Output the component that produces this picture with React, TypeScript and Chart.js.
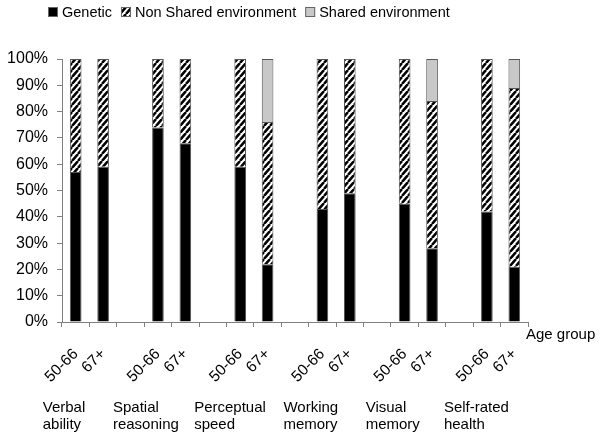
import React, { useEffect, useRef } from "react";
import { Chart, registerables } from "chart.js";
Chart.register(...registerables);

const seriesNames = ["Genetic", "Non Shared environment", "Shared environment"];
const domains = [
  ["Verbal", "ability"],
  ["Spatial", "reasoning"],
  ["Perceptual", "speed"],
  ["Working", "memory"],
  ["Visual", "memory"],
  ["Self-rated", "health"],
];
const ageGroups = ["50-66", "67+"];
const genetic = [57, 59, 74, 68, 59, 22, 43, 49, 45, 28, 42, 21];
const nonShared = [43, 41, 26, 32, 41, 54, 57, 51, 55, 56, 58, 68];
const shared = [0, 0, 0, 0, 0, 24, 0, 0, 0, 16, 0, 11];
const yTicks = [0, 10, 20, 30, 40, 50, 60, 70, 80, 90, 100];
const axisTitle = "Age group";

const FONT = '"Liberation Sans", Arial, sans-serif';
const domainLabelOffsets = [-33, -45, -46, -39, -39, -43];

function makeHatch(): CanvasPattern | string {
  const w = 6, h = 7;
  const c = document.createElement("canvas");
  c.width = w; c.height = h;
  const g = c.getContext("2d");
  if (!g) return "#000";
  g.fillStyle = "#fff";
  g.fillRect(0, 0, w, h);
  g.strokeStyle = "#000";
  g.lineWidth = 2.5;
  g.beginPath();
  g.moveTo(0, h); g.lineTo(w, 0);
  g.moveTo(-w, h); g.lineTo(0, 0);
  g.moveTo(w, h); g.lineTo(2 * w, 0);
  g.stroke();
  const p = g.createPattern(c, "repeat");
  return p || "#000";
}

function buildSlots() {
  const labels: string[] = [];
  const gen: (number | null)[] = [];
  const non: (number | null)[] = [];
  const sh: (number | null)[] = [];
  const firstIdx: number[] = [];
  domains.forEach((_, i) => {
    firstIdx.push(labels.length);
    ageGroups.forEach((a, j) => {
      labels.push(a);
      gen.push(genetic[i * 2 + j]);
      non.push(nonShared[i * 2 + j]);
      sh.push(shared[i * 2 + j]);
    });
    if (i < domains.length - 1) {
      labels.push("");
      gen.push(null); non.push(null); sh.push(null);
    }
  });
  return { labels, gen, non, sh, firstIdx };
}

export default function App() {
  const ref = useRef<HTMLCanvasElement | null>(null);
  useEffect(() => {
    if (!ref.current) return;
    const hatch = makeHatch();
    const { labels, gen, non, sh, firstIdx } = buildSlots();
    const colors: any[] = ["#000000", hatch, "#c8c8c8"];

    const extras = {
      id: "extras",
      afterDraw(chart: any) {
        const ctx = chart.ctx;
        ctx.save();
        ctx.fillStyle = "#000";
        ctx.font = `14.5px ${FONT}`;
        // legend
        let x = 48;
        const by = 7;
        seriesNames.forEach((name, i) => {
          ctx.fillStyle = colors[i];
          ctx.fillRect(x, by, 10, 10);
          ctx.strokeStyle = "#666";
          ctx.lineWidth = 1;
          ctx.strokeRect(x + 0.5, by + 0.5, 9, 9);
          ctx.fillStyle = "#000";
          ctx.textAlign = "left";
          ctx.textBaseline = "middle";
          ctx.fillText(name, x + 14, by + 5.5);
          x += 14 + ctx.measureText(name).width + 9;
        });
        ctx.font = `15px ${FONT}`;
        // axis title
        const xs = chart.scales.x;
        ctx.textAlign = "left";
        ctx.textBaseline = "middle";
        ctx.fillText(axisTitle, xs.right - 2, xs.top + 13);
        // domain labels
        ctx.textBaseline = "alphabetic";
        domains.forEach((lines, i) => {
          const px = xs.getPixelForValue(firstIdx[i]) + domainLabelOffsets[i];
          lines.forEach((ln, k) => {
            ctx.fillText(ln, px, 412 + k * 16.5);
          });
        });
        ctx.restore();
      },
    };

    const chart = new Chart(ref.current, {
      type: "bar",
      data: {
        labels,
        datasets: [
          { label: seriesNames[0], data: gen, backgroundColor: colors[0], borderColor: "#555", borderWidth: 1 },
          { label: seriesNames[1], data: non, backgroundColor: colors[1], borderColor: "#555", borderWidth: 1 },
          { label: seriesNames[2], data: sh, backgroundColor: colors[2], borderColor: "#555", borderWidth: 1 },
        ],
      },
      options: {
        animation: false,
        responsive: true,
        maintainAspectRatio: false,
        layout: { padding: { top: 59, right: 72, left: 0, bottom: 0 } },
        datasets: { bar: { barPercentage: 0.85, categoryPercentage: 0.5 } },
        plugins: { legend: { display: false }, tooltip: { enabled: false } },
        scales: {
          x: {
            stacked: true,
            grid: { display: true, drawOnChartArea: false, drawTicks: true, tickLength: 5, color: "#808080", offset: true },
            border: { display: true, color: "#808080", width: 1 },
            ticks: {
              autoSkip: false,
              maxRotation: 45,
              minRotation: 45,
              padding: 18,
              color: "#000",
              font: { family: FONT, size: 15.5 },
            },
            afterFit(s: any) { s.height = 115; },
          },
          y: {
            stacked: true,
            min: 0,
            max: 100,
            afterBuildTicks(s: any) { s.ticks = yTicks.map((v) => ({ value: v })); },
            grid: { display: true, drawOnChartArea: false, drawTicks: true, tickLength: 5, color: "#808080" },
            border: { display: true, color: "#808080", width: 1 },
            ticks: {
              padding: 9,
              color: "#000",
              font: { family: FONT, size: 16 },
              callback: (v: any) => `${v}%`,
            },
            afterFit(s: any) { s.width = 62; },
          },
        },
      },
      plugins: [extras],
    });
    return () => chart.destroy();
  }, []);
  return (
    <div style={{ position: "fixed", left: 0, top: 0, width: 600, height: 437, background: "#fff" }}>
      <canvas ref={ref} />
    </div>
  );
}
